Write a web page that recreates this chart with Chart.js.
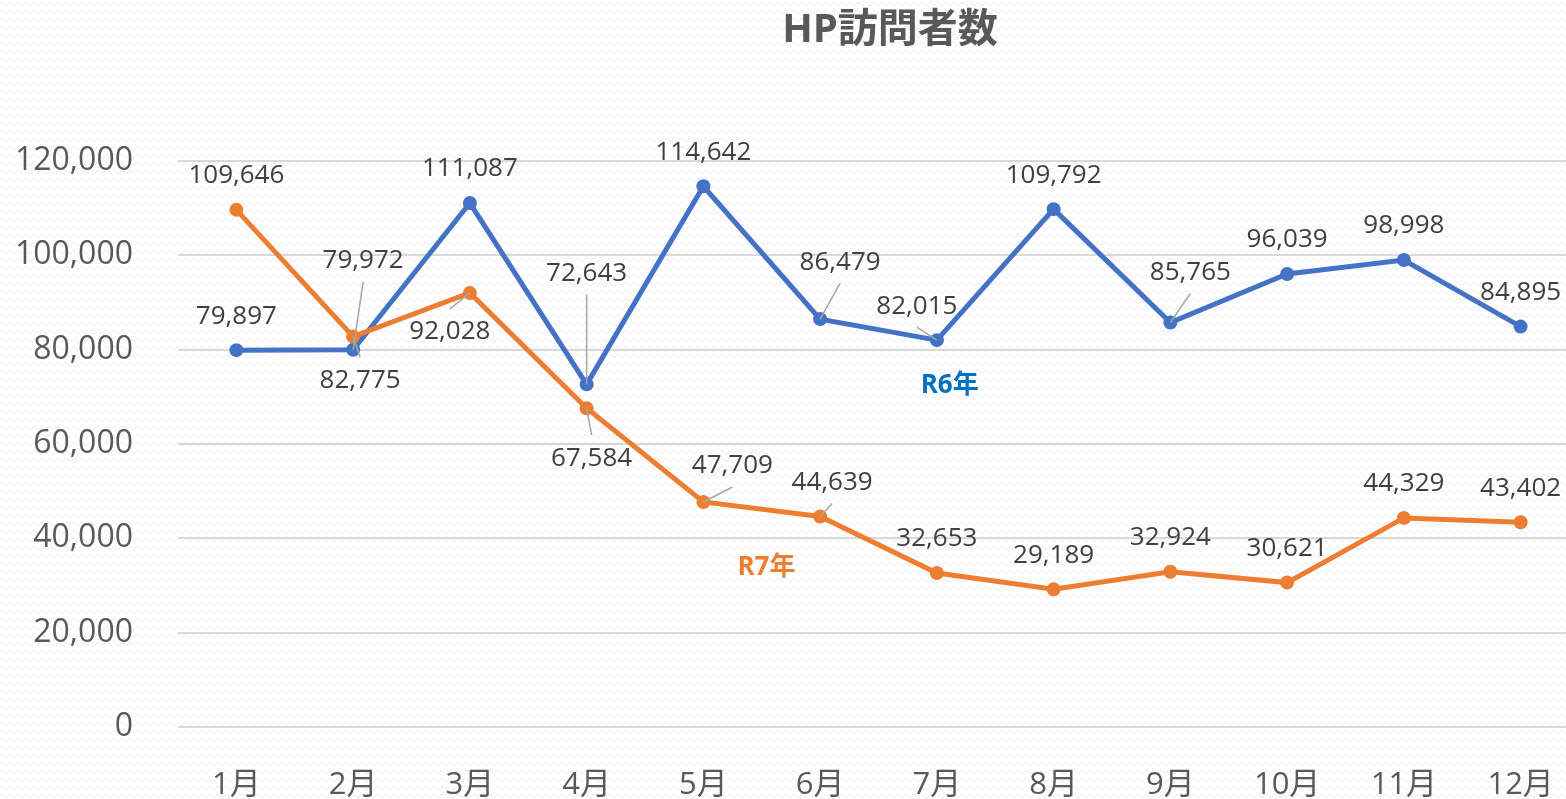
<!DOCTYPE html>
<html lang="ja">
<head>
<meta charset="utf-8">
<title>HP訪問者数</title>
<script src="https://cdn.jsdelivr.net/npm/chart.js@4.4.1/dist/chart.umd.min.js"></script>
<style>
  html, body { margin: 0; padding: 0; overflow: hidden; background: #fff; }
  #wrap { width: 1586px; height: 799px; }
</style>
</head>
<body>
<div id="wrap"><canvas id="chart" width="1586" height="799"></canvas></div>
<script>
const chartTitle = "HP訪問者数";
const months = ["1月", "2月", "3月", "4月", "5月", "6月", "7月", "8月", "9月", "10月", "11月", "12月"];
const seriesNames = ["R6年", "R7年"];
const r6Values = [79897, 79972, 111087, 72643, 114642, 86479, 82015, 109792, 85765, 96039, 98998, 84895];
const r7Values = [109646, 82775, 92028, 67584, 47709, 44639, 32653, 29189, 32924, 30621, 44329, 43402];
const yTicks = [0, 20000, 40000, 60000, 80000, 100000, 120000];

// where each data label sits relative to its point: [dx, dy, leader line?]
const r6LabelPos = [[0, -35, false], [10, -90, true], [0, -35, false], [0, -112, true], [0, -35, false], [20, -58, true],
                    [-20, -35, true], [0, -35, false], [20, -51, true], [0, -35, false], [0, -35, false], [0, -35, false]];
const r7LabelPos = [[0, -35, false], [7, 43, true], [-20, 38, true], [5, 49, true], [29, -37, true], [12, -35, true],
                    [0, -35, false], [0, -35, false], [0, -35, false], [0, -35, false], [0, -35, false], [0, -35, false]];
// series name labels placed in data space: [category index, value]
const seriesNamePos = [[6.11, 72300], [4.54, 33900]];

const BLUE = "#4472C4";
const ORANGE = "#ED7D31";
const FONT = "'Open Sans', 'Noto Sans CJK JP', sans-serif";

const fmt = v => v.toLocaleString("en-US");

// faint wavy background like the Excel chart fill
const bgPlugin = {
  id: "bg",
  beforeDraw(chart) {
    const tile = document.createElement("canvas");
    tile.width = 8; tile.height = 8;
    const t = tile.getContext("2d");
    t.fillStyle = "#fff";
    t.fillRect(0, 0, 8, 8);
    t.strokeStyle = "#ececec";
    t.lineWidth = 1;
    t.beginPath();
    t.moveTo(0, 4);
    t.quadraticCurveTo(2, 0.5, 4, 4);
    t.quadraticCurveTo(6, 7.5, 8, 4);
    t.stroke();
    const ctx = chart.ctx;
    ctx.save();
    ctx.fillStyle = ctx.createPattern(tile, "repeat");
    ctx.fillRect(0, 0, chart.width, chart.height);
    ctx.restore();
  }
};

const labelPlugin = {
  id: "labels",
  afterDatasetsDraw(chart) {
    const ctx = chart.ctx;
    const sets = [[r6Values, r6LabelPos], [r7Values, r7LabelPos]];
    ctx.save();
    ctx.font = "26px " + FONT;
    ctx.textAlign = "center";
    ctx.textBaseline = "middle";
    sets.forEach(([vals, pos], i) => {
      const meta = chart.getDatasetMeta(i);
      meta.data.forEach((p, j) => {
        const [dx, dy, leader] = pos[j];
        const lx = p.x + dx, ly = p.y + dy;
        if (leader) {
          const ey = ly + (dy < 0 ? 22 : -22);
          ctx.strokeStyle = "#a6a6a6";
          ctx.lineWidth = 1.5;
          ctx.beginPath();
          ctx.moveTo(lx, ey);
          ctx.lineTo(p.x, p.y);
          ctx.stroke();
        }
        ctx.fillStyle = "#404040";
        ctx.fillText(fmt(vals[j]), lx, ly + 1);
      });
    });

    // series names
    const xs = chart.scales.x, ys = chart.scales.y;
    ctx.font = "bold 26px " + FONT;
    [ "#0070C0", ORANGE ].forEach((c, i) => {
      ctx.fillStyle = c;
      ctx.fillText(seriesNames[i], xs.getPixelForValue(seriesNamePos[i][0]), ys.getPixelForValue(seriesNamePos[i][1]));
    });

    // title
    ctx.font = "bold 40px " + FONT;
    ctx.fillStyle = "#595959";
    ctx.fillText(chartTitle, 890, 31);
    ctx.restore();
  }
};

new Chart(document.getElementById("chart"), {
  type: "line",
  data: {
    labels: months,
    datasets: [
      {
        label: seriesNames[0],
        data: r6Values,
        borderColor: BLUE,
        backgroundColor: BLUE,
        borderWidth: 5,
        pointRadius: 7,
        pointBorderWidth: 0,
        tension: 0,
        order: 1
      },
      {
        label: seriesNames[1],
        data: r7Values,
        borderColor: ORANGE,
        backgroundColor: ORANGE,
        borderWidth: 5,
        pointRadius: 7,
        pointBorderWidth: 0,
        tension: 0,
        order: 0
      }
    ]
  },
  options: {
    responsive: false,
    animation: false,
    layout: { padding: { top: 161, left: 0, right: 0, bottom: 0 } },
    plugins: {
      legend: { display: false },
      tooltip: { enabled: false },
      title: { display: false }
    },
    scales: {
      x: {
        offset: true,
        grid: { display: false },
        border: { display: false },
        ticks: { color: "#595959", font: { family: FONT, size: 31 }, padding: 32, maxRotation: 0 },
        afterFit: s => { s.height = 72; s.paddingLeft = 0; s.paddingRight = 0; }
      },
      y: {
        min: 0,
        max: 120000,
        afterBuildTicks: s => { s.ticks = yTicks.map(v => ({ value: v })); },
        grid: { color: "#d9d9d9", lineWidth: 2, drawTicks: false },
        border: { display: false },
        ticks: { color: "#595959", font: { family: FONT, size: 32 }, padding: 45, callback: v => fmt(v) },
        afterFit: s => { s.width = 178; }
      }
    }
  },
  plugins: [bgPlugin, labelPlugin]
});
</script>
</body>
</html>
